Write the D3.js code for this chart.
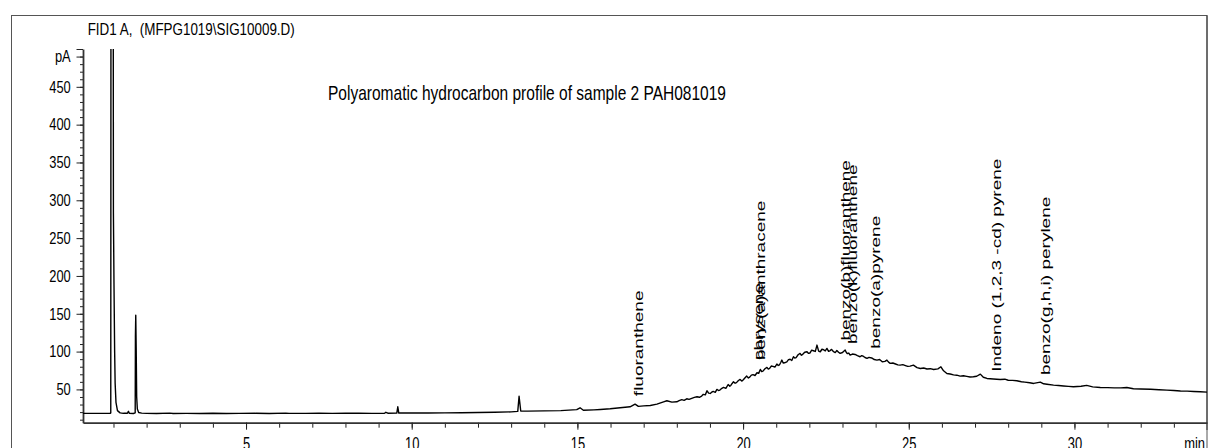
<!DOCTYPE html>
<html lang="en">
<head>
    <meta charset="UTF-8">
    <title>PAH chromatogram</title>
    <style>
        body { margin: 0; background: #fff; }
        text { font-family: "Liberation Sans", Arial, sans-serif; fill: #000; }
    </style>
</head>
<body>

    <script src="https://d3js.org/d3.v7.min.js"></script>

    <script>
        // FID1 A signal, [retention time (min), signal (pA)]
        const trace = [
            [0.08, 18.3], [0.5, 18.3], [0.9, 18.3], [0.918, 19], [0.925, 700], [0.957, 2600],
            [0.99, 700], [0.998, 283], [1.015, 190], [1.035, 100], [1.05, 58], [1.075, 33],
            [1.12, 22], [1.2, 19], [1.3, 18.4], [1.42, 18.5], [1.45, 21], [1.48, 18.3],
            [1.6, 18.2], [1.655, 19], [1.662, 120], [1.672, 148], [1.685, 105], [1.70, 40],
            [1.72, 24], [1.76, 19.5], [1.85, 18.6], [2.0, 18.3], [2.3, 18.2], [2.7, 18.6],
            [2.8, 18.2], [3.2, 18.3], [3.6, 18.2], [4.0, 18.4], [4.4, 18.2], [4.8, 18.3],
            [5.3, 18.4], [5.7, 18.2], [6.2, 18.7], [6.3, 18.3], [6.8, 18.3], [7.2, 18.5],
            [7.6, 18.3], [8.0, 18.4], [8.4, 18.6], [8.8, 18.3], [9.18, 18.4], [9.22, 19.8],
            [9.28, 18.5], [9.55, 18.6], [9.58, 27], [9.61, 18.8], [10.0, 18.9], [10.5, 18.8],
            [11.0, 19.0], [11.5, 19.1], [12.0, 19.5], [12.5, 19.8], [13.0, 20.3], [13.2, 21],
            [13.24, 41], [13.29, 21.5], [13.5, 21.3], [14.0, 21.6], [14.5, 22.0], [14.98, 23.3],
            [15.08, 25.7], [15.18, 22.4], [15.5, 23.0], [15.69, 23.5], [15.99, 24.4], [16.29, 25.7],
            [16.59, 27.0], [16.74, 30.6], [16.84, 27.6], [17.0, 28.2], [17.2, 28.8], [17.4, 30.5],
            [17.6, 33.6], [17.7, 35.0], [17.85, 33.2], [18.0, 33.6], [18.07, 35.1], [18.15, 36.4],
            [18.22, 35.5], [18.3, 37.6], [18.37, 36.9], [18.45, 38.2], [18.53, 39.4], [18.61, 40.3],
            [18.68, 39.6], [18.75, 41.2], [18.8, 43.5], [18.86, 42.8], [18.91, 48.2], [18.96, 45.1],
            [19.01, 44.7], [19.06, 46.6], [19.1, 47.3], [19.16, 46.2], [19.21, 50.0], [19.26, 48.6],
            [19.3, 49.1], [19.36, 51.5], [19.41, 52.6], [19.48, 51.4], [19.55, 56.5], [19.6, 54.3],
            [19.63, 55.2], [19.67, 57.9], [19.71, 60.1], [19.76, 58.2], [19.8, 59.0], [19.86, 61.8],
            [19.91, 63.2], [19.96, 61.0], [20.0, 62.4], [20.06, 65.3], [20.11, 67.6], [20.16, 65.2],
            [20.2, 66.3], [20.25, 68.9], [20.3, 69.5], [20.36, 68.4], [20.42, 72.0], [20.47, 71.2],
            [20.52, 76.4], [20.56, 73.5], [20.6, 74.2], [20.66, 77.3], [20.72, 79.1], [20.76, 76.9],
            [20.8, 77.8], [20.85, 80.9], [20.9, 80.5], [20.96, 79.6], [21.02, 83.5], [21.06, 81.7],
            [21.1, 82.6], [21.14, 85.9], [21.17, 88.8], [21.21, 84.8], [21.25, 85.2], [21.32, 86.5],
            [21.37, 89.4], [21.42, 89.9], [21.47, 88.3], [21.52, 93.2], [21.56, 91.5], [21.6, 92.1],
            [21.66, 95.8], [21.72, 97.6], [21.76, 95.1], [21.8, 96.4], [21.86, 99.1], [21.93, 99.8],
            [21.97, 97.6], [22.02, 98.2], [22.07, 101.9], [22.12, 101.1], [22.18, 100.2], [22.23, 108.6],
            [22.28, 100.6], [22.33, 99.8], [22.38, 103.1], [22.43, 102.4], [22.48, 100.9], [22.53, 104.2],
            [22.58, 100.3], [22.62, 101.0], [22.67, 102.9], [22.73, 99.8], [22.78, 98.7], [22.83, 101.5],
            [22.88, 99.2], [22.93, 97.6], [23.0, 98.8], [23.04, 100.4], [23.08, 102.0], [23.12, 98.5],
            [23.15, 97.3], [23.19, 98.1], [23.23, 95.4], [23.3, 96.8], [23.38, 96.2], [23.45, 94.6],
            [23.53, 93.2], [23.58, 94.7], [23.62, 93.9], [23.68, 92.2], [23.74, 91.0], [23.8, 92.4],
            [23.88, 91.6], [23.96, 89.5], [24.04, 88.8], [24.12, 89.6], [24.2, 86.5], [24.28, 87.1],
            [24.34, 88.8], [24.39, 86.0], [24.44, 84.4], [24.52, 84.9], [24.6, 83.6], [24.67, 82.4],
            [24.74, 82.1], [24.82, 82.8], [24.9, 81.5], [24.97, 80.4], [25.04, 80.8], [25.14, 82.1],
            [25.25, 78.9], [25.35, 77.7], [25.45, 78.3], [25.55, 77.0], [25.65, 77.4], [25.75, 76.4],
            [25.88, 77.2], [25.97, 79.9], [26.05, 74.6], [26.15, 71.1], [26.25, 70.4], [26.35, 69.2],
            [26.45, 68.8], [26.55, 67.6], [26.65, 68.0], [26.75, 67.2], [26.85, 66.4], [26.95, 66.7],
            [27.05, 67.4], [27.16, 70.2], [27.25, 66.1], [27.36, 64.5], [27.55, 63.8], [27.76, 63.2],
            [27.9, 63.5], [28.0, 62.1], [28.13, 62.0], [28.26, 61.4], [28.4, 60.2], [28.5, 59.6],
            [28.65, 58.8], [28.77, 57.9], [28.97, 59.7], [29.07, 57.4], [29.17, 56.9], [29.37, 55.7],
            [29.52, 55.2], [29.67, 54.6], [29.82, 54.0], [29.97, 53.5], [30.2, 54.1], [30.37, 55.3],
            [30.55, 53.4], [30.78, 52.6], [31.0, 52.3], [31.2, 52.0], [31.4, 52.1], [31.58, 52.6],
            [31.78, 50.8], [32.0, 50.6], [32.3, 50.2], [32.55, 49.6], [32.79, 49.1], [33.0, 48.6],
            [33.2, 48.0], [33.4, 47.7], [33.6, 47.3], [33.8, 46.9], [34.0, 46.4]
        ];

        // peak annotations: name, label position (min), label start (pA)
        const peakNames = [
            'fluoranthene', 'benz(a)anthracene', 'chrysene', 'benzo(b)fluoranthene',
            'benzo(k)fluoranthene', 'benzo(a)pyrene', 'Indeno (1,2,3 -cd) pyrene', 'benzo(g,h,i) perylene'
        ];
        const peakTimes = [16.98, 20.67, 20.61, 23.23, 23.44, 24.14, 27.79, 29.25];
        const peakLabelPA = [41.1, 88.8, 88.8, 114.5, 110.1, 103.7, 73.2, 68.9];

        const xMajorTicks = [5, 10, 15, 20, 25, 30];
        const xMinorTicks = d3.range(1, 34);
        const yMajorTicks = [50, 100, 150, 200, 250, 300, 350, 400, 450, 490, 500];
        const yMinorTicks = d3.range(10, 501, 10);

        const titleText = 'Polyaromatic hydrocarbon profile of sample 2 PAH081019';
        const headerText = 'FID1 A,\u00a0\u00a0(MFPG1019\\SIG10009.D)';

        const width = 1213, height = 448;

        const x = d3.scaleLinear().domain([0.08, 34]).range([83, 1207]);
        const y = d3.scaleLinear().domain([6, 500]).range([422.7, 49]);

        const svg = d3.select('body')
            .append('svg')
            .attr('width', width)
            .attr('height', height);

        // outer frame of the printout
        svg.append('rect')
            .attr('x', 11.5)
            .attr('y', 15.5)
            .attr('width', 1195.5)
            .attr('height', 460)
            .attr('fill', 'none')
            .attr('stroke', '#555')
            .attr('stroke-width', 1);

        svg.append('text')
            .attr('x', 87.7)
            .attr('y', 35)
            .attr('font-size', 16.3)
            .attr('textLength', 207)
            .attr('lengthAdjust', 'spacingAndGlyphs')
            .text(headerText);

        svg.append('text')
            .attr('x', 328)
            .attr('y', 100)
            .attr('font-size', 21)
            .attr('textLength', 398)
            .attr('lengthAdjust', 'spacingAndGlyphs')
            .text(titleText);

        // y axis
        svg.append('g')
            .attr('transform', 'translate(83,0)')
            .call(d3.axisLeft(y).tickValues(yMinorTicks).tickSize(3).tickSizeOuter(0).tickFormat(''))
            .call(g => g.select('.domain').remove())
            .call(g => g.selectAll('line').attr('stroke', '#222'));

        svg.append('g')
            .attr('transform', 'translate(83,0)')
            .call(d3.axisLeft(y).tickValues(yMajorTicks).tickSize(6.5).tickSizeOuter(0)
                .tickFormat(d => d === 490 ? 'pA' : d === 500 ? '' : d))
            .call(g => g.select('.domain').attr('stroke', '#333').attr('stroke-width', 1.8))
            .call(g => g.selectAll('line').attr('stroke', '#222'))
            .call(g => g.selectAll('text')
                .attr('x', -12.3 / 0.78)
                .attr('transform', 'scale(0.78,1)')
                .attr('font-size', 16.5)
                .attr('font-family', '"Liberation Sans", Arial, sans-serif')
                .attr('fill', '#000'));

        // x axis
        svg.append('g')
            .attr('transform', 'translate(0,422.7)')
            .call(d3.axisBottom(x).tickValues(xMinorTicks).tickSize(5).tickSizeOuter(0).tickFormat(''))
            .call(g => g.select('.domain').remove())
            .call(g => g.selectAll('line').attr('stroke', '#222'));

        svg.append('g')
            .attr('transform', 'translate(0,422.7)')
            .call(d3.axisBottom(x).tickValues(xMajorTicks).tickSize(7).tickPadding(7.6).tickSizeOuter(0))
            .call(g => g.select('.domain').attr('stroke', '#333').attr('stroke-width', 1.8))
            .call(g => g.selectAll('line').attr('stroke', '#222'))
            .call(g => g.selectAll('text')
                .attr('transform', 'scale(0.74,1)')
                .attr('font-size', 17.5)
                .attr('font-family', '"Liberation Sans", Arial, sans-serif')
                .attr('fill', '#000'));

        svg.append('text')
            .attr('text-anchor', 'end')
            .attr('font-size', 17.5)
            .attr('transform', `translate(1205,${422.7 + 14.6 + 12.4}) scale(0.74,1)`)
            .text('min');

        // right-hand end line
        svg.append('line')
            .attr('x1', x(34)).attr('x2', x(34))
            .attr('y1', 15.5).attr('y2', 430)
            .attr('stroke', '#333')
            .attr('stroke-width', 1);

        // signal trace, clipped to plot area
        svg.append('clipPath')
            .attr('id', 'plot-clip')
            .append('rect')
            .attr('x', x(0.08))
            .attr('y', y(500))
            .attr('width', x(34) - x(0.08))
            .attr('height', y(6) - y(500));

        const line = d3.line()
            .x(d => x(d[0]))
            .y(d => y(d[1]));

        svg.append('path')
            .datum(trace)
            .attr('clip-path', 'url(#plot-clip)')
            .attr('fill', 'none')
            .attr('stroke', '#000')
            .attr('stroke-width', 1.4)
            .attr('stroke-linejoin', 'round')
            .attr('d', line);

        // rotated peak names
        svg.selectAll('.peak-label')
            .data(peakNames)
            .enter()
            .append('text')
            .attr('class', 'peak-label')
            .attr('font-size', 19)
            .attr('transform', (d, i) => `translate(${x(peakTimes[i])},${y(peakLabelPA[i])}) scale(0.72,1) rotate(-90)`)
            .text(d => d);
    </script>

</body>
</html>
